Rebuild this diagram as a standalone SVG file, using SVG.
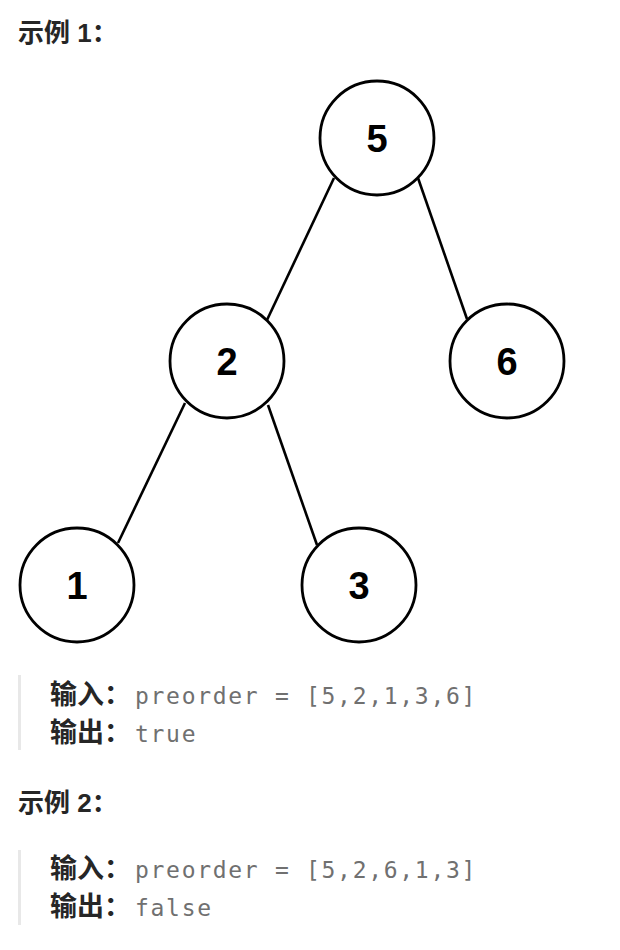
<svg xmlns="http://www.w3.org/2000/svg" width="620" height="950" viewBox="0 0 620 950">
<style>
.h{font-family:"Liberation Sans","Noto Sans CJK SC",sans-serif;font-weight:bold;font-size:26px;fill:#262626}
.b{font-family:"Liberation Sans","Noto Sans CJK SC",sans-serif;font-weight:bold;font-size:27px;fill:#262626}
.m{font-family:"DejaVu Sans Mono",monospace;font-size:23px;fill:#707070;letter-spacing:1.7px}
.n circle{fill:#fff;stroke:#000;stroke-width:2.8}
.n text{font-family:"Liberation Sans",Arial,sans-serif;font-weight:bold;font-size:38px;text-anchor:middle;fill:#000}
.e line{stroke:#000;stroke-width:2.6}
.bar{fill:#e8e8e8}
</style>
<rect width="620" height="950" fill="#fff"/>
<text class="h" x="18" y="42">示例 1：</text>
<g class="e" id="edges">
<line x1="334" y1="178" x2="267" y2="320"/>
<line x1="418" y1="178" x2="467" y2="319"/>
<line x1="185" y1="403" x2="118" y2="543"/>
<line x1="268" y1="405" x2="317" y2="545"/>
</g>
<g class="n" id="n5"><circle cx="377" cy="138" r="57"/><text x="377" y="152">5</text></g>
<g class="n" id="n2"><circle cx="227" cy="361" r="57"/><text x="227" y="375">2</text></g>
<g class="n" id="n6"><circle cx="507" cy="361" r="57"/><text x="507" y="375">6</text></g>
<g class="n" id="n1"><circle cx="77" cy="585" r="57"/><text x="77" y="599">1</text></g>
<g class="n" id="n3"><circle cx="359" cy="585" r="57"/><text x="359" y="599">3</text></g>
<rect class="bar" x="18" y="675" width="3" height="75"/>
<text class="b" x="50" y="704">输入：</text>
<text class="m" x="135" y="704">preorder = [5,2,1,3,6]</text>
<text class="b" x="50" y="742">输出：</text>
<text class="m" x="135" y="742">true</text>
<text class="h" x="18" y="812">示例 2：</text>
<rect class="bar" x="18" y="850" width="3" height="75"/>
<text class="b" x="50" y="878">输入：</text>
<text class="m" x="135" y="878">preorder = [5,2,6,1,3]</text>
<text class="b" x="50" y="916">输出：</text>
<text class="m" x="135" y="916">false</text>
</svg>
